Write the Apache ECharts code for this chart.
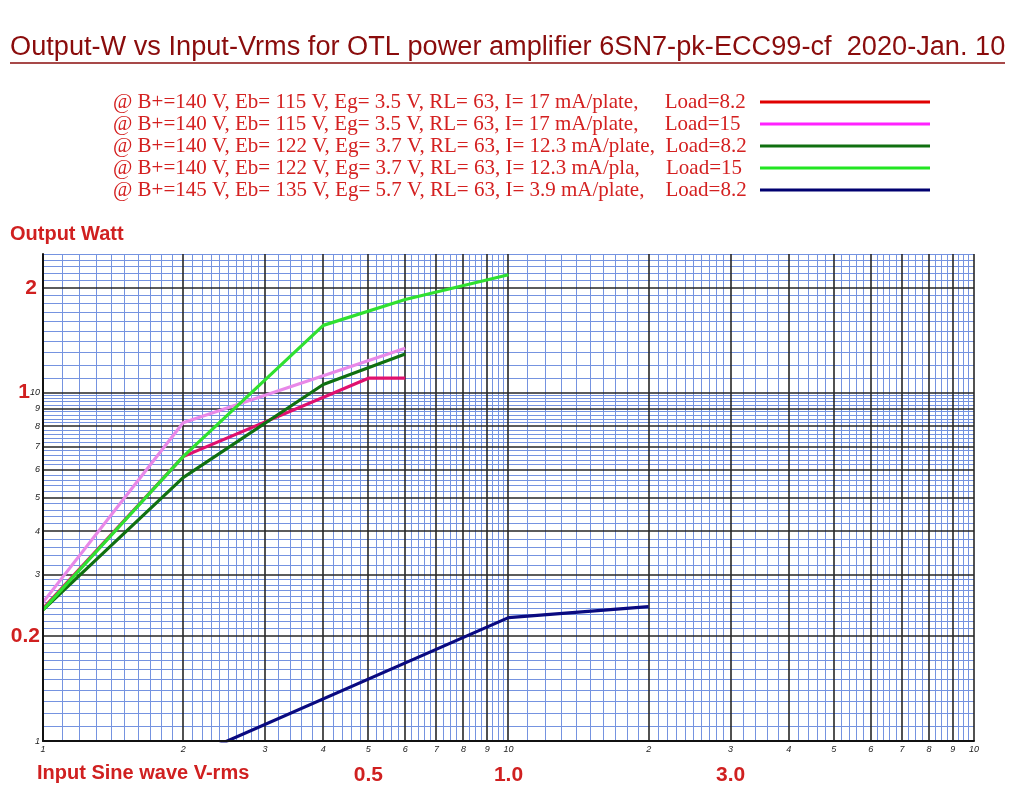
<!DOCTYPE html>
<html>
<head>
<meta charset="utf-8">
<script src="https://cdn.jsdelivr.net/npm/echarts@6/dist/echarts.min.js"></script>
<style>
html,body{margin:0;padding:0;background:#fff;}
#chart{width:1023px;height:787px;}
</style>
</head>
<body>
<div id="chart"></div>
<script>
// ---- data (Input V-rms on x, Output Watt on y) ----
const seriesNames = [
  '@ B+=140 V, Eb= 115 V, Eg= 3.5 V, RL= 63, I= 17 mA/plate,     Load=8.2',
  '@ B+=140 V, Eb= 115 V, Eg= 3.5 V, RL= 63, I= 17 mA/plate,     Load=15',
  '@ B+=140 V, Eb= 122 V, Eg= 3.7 V, RL= 63, I= 12.3 mA/plate,  Load=8.2',
  '@ B+=140 V, Eb= 122 V, Eg= 3.7 V, RL= 63, I= 12.3 mA/pla,     Load=15',
  '@ B+=145 V, Eb= 135 V, Eg= 5.7 V, RL= 63, I= 3.9 mA/plate,    Load=8.2'
];
const redX = [0.1, 0.2, 0.5, 0.6];
const redY = [0.24, 0.655, 1.10, 1.10];
const pinkX = [0.1, 0.2, 0.6];
const pinkY = [0.25, 0.82, 1.34];
const darkGreenX = [0.1, 0.2, 0.4, 0.6];
const darkGreenY = [0.238, 0.57, 1.055, 1.29];
const greenX = [0.1, 0.2, 0.4, 0.6, 1.0];
const greenY = [0.238, 0.655, 1.56, 1.85, 2.18];
const navyX = [0.2, 1.0, 2.0];
const navyY = [0.088, 0.226, 0.243];

// tick labels
const xSmallTicks = [0.1,0.2,0.3,0.4,0.5,0.6,0.7,0.8,0.9,1,2,3,4,5,6,7,8,9,10];
const xSmallLabels = ['1','2','3','4','5','6','7','8','9','10','2','3','4','5','6','7','8','9','10'];
const xBigTicks = [0.5, 1, 3];
const xBigLabels = ['0.5', '1.0', '3.0'];
const ySmallTicks = [0.1,0.3,0.4,0.5,0.6,0.7,0.8,0.9,1];
const ySmallLabels = ['1','3','4','5','6','7','8','9','10'];
const yBigTicks = [0.2, 1, 2];
const yBigLabels = ['0.2', '1', '2'];

// ---- styling ----
const lineColors = ['#e0106e', '#e888e8', '#107010', '#30e030', '#0a0a80'];
const legendColors = ['#e00000', '#ff22ff', '#107010', '#22e622', '#000070'];

function zip(xs, ys){ return xs.map((x,i)=>[x, ys[i]]); }
const seriesData = [zip(redX,redY), zip(pinkX,pinkY), zip(darkGreenX,darkGreenY), zip(greenX,greenY), zip(navyX,navyY)];

// graph-paper rulings
function ruling(segs){
  const out=[];
  segs.forEach(([a,b,s])=>{
    const n=Math.round((b-a)/s);
    for(let i=1;i<n;i++){ out.push(Math.round((a+i*s)*10000)/10000); }
  });
  return out;
}
const xMajor = [0.2,0.3,0.4,0.5,0.6,0.7,0.8,0.9,1,2,3,4,5,6,7,8,9,10];
const yMajor = [0.2,0.3,0.4,0.5,0.6,0.7,0.8,0.9,1,2];
const xMinorAll = ruling([[0.1,0.3,0.01],[0.3,0.7,0.02],[0.7,1,0.025],[1,3,0.1],[3,7,0.2],[7,10,0.25]]);
const yMinorAll = ruling([[0.1,0.3,0.01],[0.3,1,0.02],[1,2.5,0.1]]).concat([2.5]);
const isMajor = (v, arr) => arr.some(m => Math.abs(m - v) < 1e-6);
const xMinor = xMinorAll.filter(v => !isMajor(v, xMajor));
const yMinor = yMinorAll.filter(v => !isMajor(v, yMajor));

function gridLines(vals, dir, color, width, z){
  return {
    type:'custom', coordinateSystem:'cartesian2d', xAxisIndex:0, yAxisIndex:0,
    silent:true, z:z, clip:false,
    data: vals.map(v => dir === 'x' ? [v, 1] : [1, v]),
    encode:{x:0, y:1},
    renderItem:(params, api) => {
      const cs = params.coordSys;
      const p = api.coord([api.value(0), api.value(1)]);
      const off = (Math.round(width) % 2 === 1) ? 0.5 : 0;
      if (dir === 'x') {
        const x = Math.round(p[0] - off) + off;
        return {type:'line', shape:{x1:x, y1:cs.y, x2:x, y2:cs.y + cs.height}, style:{stroke:color, lineWidth:width}};
      } else {
        const y = Math.round(p[1] - off) + off;
        return {type:'line', shape:{x1:cs.x, y1:y, x2:cs.x + cs.width, y2:y}, style:{stroke:color, lineWidth:width}};
      }
    }
  };
}

const minorColor = '#7593e0';
const majorColor = '#262626';

const chart = echarts.init(document.getElementById('chart'), null, {renderer:'canvas'});

const logX = {type:'log', logBase:10, min:0.1, max:10};
const logY = {type:'log', logBase:10, min:0.1, max:2.5};
const labelFont = 'Liberation Sans, Arial, sans-serif';

const option = {
  animation:false,
  backgroundColor:'#ffffff',
  graphic:[
    {type:'text', x:10, y:34, scaleX:1.006, silent:true,
      style:{text:'Output-W vs Input-Vrms for OTL power amplifier 6SN7-pk-ECC99-cf  2020-Jan. 10',
        fill:'#8a0c0c', font:'27px "Liberation Sans", Arial, sans-serif', verticalAlign:'top'}},
    {type:'line', shape:{x1:10,y1:63,x2:1005,y2:63}, style:{stroke:'#8a0c0c', lineWidth:1.5}, silent:true},
    {type:'text', left:10, top:224, style:{text:'Output Watt', fill:'#d02020', font:'bold 20px "Liberation Sans", Arial, sans-serif'}},
    {type:'text', left:37, top:763, style:{text:'Input Sine wave V-rms', fill:'#d02020', font:'bold 20px "Liberation Sans", Arial, sans-serif'}}
  ],
  legend:{
    orient:'vertical', left:108, top:86, align:'right',
    itemWidth:170, itemHeight:3, itemGap:0, icon:'rect',
    selectedMode:false,
    formatter:(name)=>'{t|' + name + '}',
    textStyle:{color:'#d42020', fontFamily:'Liberation Serif, Times New Roman, serif', fontSize:21, lineHeight:22,
      rich:{t:{width:642, align:'left', color:'#d42020', fontFamily:'Liberation Serif, Times New Roman, serif', fontSize:21, lineHeight:22}}},
    data: seriesNames.map((n,i)=>({name:n, itemStyle:{color:legendColors[i]}}))
  },
  grid:{left:43, right:49, top:254, bottom:46, containLabel:false},
  xAxis:[
    Object.assign({}, logX, {
      position:'bottom', z:10,
      axisLine:{show:true, onZero:false, lineStyle:{color:'#111', width:2}},
      axisTick:{show:false}, splitLine:{show:false}, minorTick:{show:false},
      axisLabel:{show:true, customValues:xSmallTicks, margin:4, color:'#222', fontSize:9, fontStyle:'italic', fontFamily:labelFont,
        formatter:(v)=>{ const i = xSmallTicks.findIndex(t=>Math.abs(t-v)<1e-6); return i>=0 ? xSmallLabels[i] : ''; }}
    }),
    Object.assign({}, logX, {
      position:'bottom',
      axisLine:{show:false}, axisTick:{show:false}, splitLine:{show:false},
      axisLabel:{show:true, customValues:xBigTicks, margin:24, color:'#d02020', fontSize:21, fontWeight:'bold', fontFamily:labelFont,
        formatter:(v)=>{ const i = xBigTicks.findIndex(t=>Math.abs(t-v)<1e-6); return i>=0 ? xBigLabels[i] : ''; }}
    })
  ],
  yAxis:[
    Object.assign({}, logY, {
      position:'left', z:10,
      axisLine:{show:true, onZero:false, lineStyle:{color:'#111', width:2}},
      axisTick:{show:false}, splitLine:{show:false}, minorTick:{show:false},
      axisLabel:{show:true, customValues:ySmallTicks, margin:3, color:'#222', fontSize:9, fontStyle:'italic', fontFamily:labelFont,
        formatter:(v)=>{ const i = ySmallTicks.findIndex(t=>Math.abs(t-v)<1e-6); return i>=0 ? ySmallLabels[i] : ''; }}
    }),
    Object.assign({}, logY, {
      position:'left',
      axisLine:{show:false}, axisTick:{show:false}, splitLine:{show:false},
      axisLabel:{show:true, customValues:yBigTicks, margin:3, color:'#d02020', fontSize:21, fontWeight:'bold', fontFamily:labelFont,
        formatter:(v)=>{ const i = yBigTicks.findIndex(t=>Math.abs(t-v)<1e-6); if(i<0) return ''; if(i===1) return '{p|1}'; if(i===2) return '{q|2}'; return yBigLabels[i]; },
        rich:{p:{color:'#d02020', fontSize:21, fontWeight:'bold', fontFamily:labelFont, padding:[0,10,0,0]},
              q:{color:'#d02020', fontSize:21, fontWeight:'bold', fontFamily:labelFont, padding:[0,3,0,0]}}}
    })
  ],
  series:[
    gridLines(xMinor, 'x', minorColor, 1, 1),
    gridLines(yMinor, 'y', minorColor, 1, 1),
    gridLines(xMajor, 'x', majorColor, 1.6, 2),
    gridLines(yMajor, 'y', majorColor, 1.6, 2)
  ].concat(seriesData.map((d,i)=>({
    type:'line', name:seriesNames[i], data:d, z:5, xAxisIndex:0, yAxisIndex:0,
    showSymbol:false, symbol:'none', clip:true,
    lineStyle:{color:lineColors[i], width:3.2},
    itemStyle:{color:lineColors[i]}
  })))
};
chart.setOption(option);
</script>
</body>
</html>
